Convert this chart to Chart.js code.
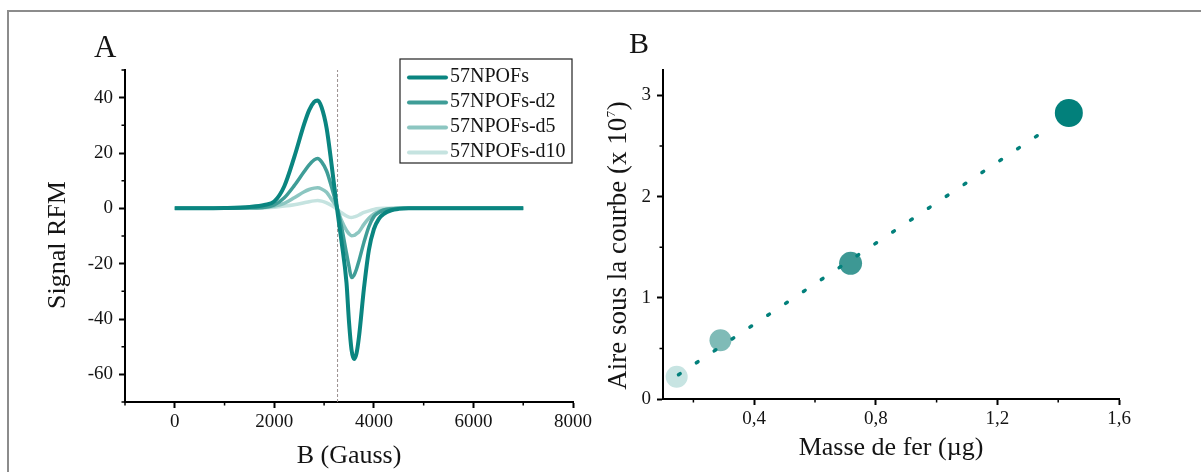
<!DOCTYPE html>
<html>
<head>
<meta charset="utf-8">
<script src="https://cdn.jsdelivr.net/npm/chart.js@4.4.1/dist/chart.umd.min.js"></script>
<style>
  html, body { margin: 0; padding: 0; background: #fff; }
  #figure { position: relative; width: 1201px; height: 472px; overflow: hidden; }
  #frame {
    position: absolute; left: 7px; top: 10px; right: -4px; bottom: -4px;
    border-top: 2px solid #8c8c8c; border-left: 2px solid #8c8c8c;
  }
  canvas { position: absolute; top: 0; }
  #chartA { left: 0; }
  #chartB { left: 600px; }
</style>
</head>
<body>
<div id="figure">
  <div id="frame"></div>
  <canvas id="chartA" width="600" height="472"></canvas>
  <canvas id="chartB" width="601" height="472"></canvas>
</div>
<script>
// ====================================
// Data
// ====================================

// Panel A : RFM spectra, field in Gauss
const bField = [0, 500, 1000, 1500, 1800, 2000, 2200, 2400, 2600, 2700, 2800, 2870, 2950, 3050, 3150,
  3250, 3350, 3450, 3500, 3550, 3600, 3650, 3700, 3800, 3900, 4000, 4100, 4200, 4350, 4500, 4700, 5000, 6000, 7000];
const signalMain = [0, 0, 0.1, 0.5, 1.2, 2.5, 8, 18.5, 30.5, 35.5, 38.5, 39, 36.5, 29, 15.8,
  1.2, -12, -27, -41, -51, -54.5, -52.5, -46.5, -29, -15, -7.5, -3.8, -2, -0.7, -0.2, 0, 0, 0, 0];
const signalD2 = [0, 0, 0, 0.2, 0.4, 1.2, 3.8, 8.2, 13.3, 15.7, 17.5, 18, 16.8, 13.5, 7.7,
  1.1, -6.7, -16.3, -21, -25, -24.2, -22, -19, -12.3, -6.6, -3, -1.5, -0.6, -0.2, 0, 0, 0, 0, 0];
const signalD5 = [0, 0, 0, 0.1, 0.3, 0.8, 1.8, 3.8, 6, 6.8, 7.3, 7.4, 7, 5.8, 3.2,
  0.5, -4.4, -8, -9.2, -9.9, -9.8, -9.2, -8.5, -5.8, -3.6, -2, -1.1, -0.5, -0.1, 0, 0, 0, 0, 0];
const signalD10 = [0, 0, 0, 0, 0.2, 0.4, 0.8, 1.3, 2, 2.4, 2.7, 2.8, 2.6, 2, 1,
  -0.2, -1.6, -2.8, -3.2, -3.3, -3.1, -2.8, -2.4, -1.5, -0.9, -0.4, -0.1, 0, 0, 0, 0, 0, 0, 0];
const seriesNames = ['57NPOFs', '57NPOFs-d2', '57NPOFs-d5', '57NPOFs-d10'];
const refField = 3270;

const xTicksA = [0, 2000, 4000, 6000, 8000];
const xMinorA = [-1000, 1000, 3000, 5000, 7000];
const yTicksA = [-60, -40, -20, 0, 20, 40];
const yMinorA = [-70, -50, -30, -10, 10, 30, 50];

// Panel B : area under curve vs iron mass
const massFe = [1.435, 0.717, 0.289, 0.145];
const areaCurve = [2.825, 1.34, 0.58, 0.22];
const fitMass = [0.151, 1.383];
const fitArea = [0.24, 2.705];

const xTicksB = [0.4, 0.8, 1.2, 1.6];
const xMinorB = [0.2, 0.6, 1.0, 1.4];
const yTicksB = [0, 1, 2, 3];
const yMinorB = [0.5, 1.5, 2.5];

// ====================================
// Styles
// ====================================

const SERIF = "'Liberation Serif', 'Times New Roman', serif";
const TEXT = '#141414';
const lineColors = ['#0a8580', '#3f9d97', '#8cc6c1', '#c5e3e0'];
const lineWidths = [4, 3.5, 3.5, 3.5];
const dotColors = ['#02807b', '#3d9894', '#7fbbb7', '#c7e4e2'];
const dotRadii = [14, 11.5, 11, 11];

Chart.defaults.font.family = SERIF;
Chart.defaults.color = TEXT;

const axisGrid = { drawOnChartArea: false, drawTicks: true, tickLength: 6, tickWidth: 2, tickColor: '#000' };
const axisBorder = { display: true, width: 2, color: '#000' };

// ====================================
// Plugins
// ====================================

const minorTicks = {
  id: 'minorTicks',
  afterDraw(chart, args, opts) {
    const { ctx, chartArea, scales } = chart;
    ctx.save();
    ctx.strokeStyle = '#000';
    ctx.lineWidth = 1.5;
    ctx.beginPath();
    (opts.x || []).forEach(v => {
      const px = scales.x.getPixelForValue(v);
      ctx.moveTo(px, chartArea.bottom);
      ctx.lineTo(px, chartArea.bottom + 3.5);
    });
    (opts.y || []).forEach(v => {
      const py = scales.y.getPixelForValue(v);
      ctx.moveTo(chartArea.left, py);
      ctx.lineTo(chartArea.left - 3.5, py);
    });
    ctx.stroke();
    ctx.restore();
  }
};

// panel letter + rotated y title (with optional exponent)
const panelText = {
  id: 'panelText',
  afterDraw(chart, args, opts) {
    const { ctx, chartArea } = chart;
    ctx.save();
    ctx.fillStyle = TEXT;
    ctx.textAlign = 'left';
    ctx.textBaseline = 'alphabetic';
    ctx.font = `${opts.letterSize}px ${SERIF}`;
    ctx.fillText(opts.letter, chartArea.left + opts.letterDx, chartArea.top + opts.letterDy);

    const cy = (chartArea.top + chartArea.bottom) / 2 + opts.titleShift;
    ctx.translate(chartArea.left + opts.titleDx, cy);
    ctx.rotate(-Math.PI / 2);
    const big = `${opts.titleSize}px ${SERIF}`;
    const small = `13px ${SERIF}`;
    ctx.font = big;
    const w1 = ctx.measureText(opts.title).width;
    let w2 = 0, w3 = 0;
    if (opts.exp) {
      ctx.font = small;
      w2 = ctx.measureText(opts.exp).width;
      ctx.font = big;
      w3 = ctx.measureText(opts.tail).width;
    }
    const x0 = -(w1 + w2 + w3) / 2;
    ctx.fillText(opts.title, x0, 0);
    if (opts.exp) {
      ctx.font = small;
      ctx.fillText(opts.exp, x0 + w1 + 0.5, opts.expDy);
      ctx.font = big;
      ctx.fillText(opts.tail, x0 + w1 + w2 + 1, 0);
    }
    ctx.restore();
  }
};

const legendBox = {
  id: 'legendBox',
  afterDraw(chart, args, opts) {
    if (!opts.show) return;
    const { ctx, chartArea } = chart;
    const items = chart.data.datasets.filter(d => d.inLegend);
    const right = chartArea.right - 1;
    const left = right - opts.width;
    const top = chartArea.top + opts.dy;
    ctx.save();
    ctx.fillStyle = '#fff';
    ctx.fillRect(left, top, opts.width, opts.height);
    ctx.strokeStyle = '#222';
    ctx.lineWidth = 1.2;
    ctx.strokeRect(left, top, opts.width, opts.height);
    ctx.font = `20px ${SERIF}`;
    ctx.textBaseline = 'middle';
    items.forEach((d, i) => {
      const y = top + opts.firstRow + i * opts.rowGap;
      ctx.strokeStyle = d.borderColor;
      ctx.lineWidth = 4;
      ctx.lineCap = 'round';
      ctx.beginPath();
      ctx.moveTo(left + 9, y);
      ctx.lineTo(left + 46, y);
      ctx.stroke();
      ctx.fillStyle = TEXT;
      ctx.fillText(d.label, left + 50, y - 0.5);
    });
    ctx.restore();
  }
};

const setTicks = values => axis => { axis.ticks = values.map(v => ({ value: v })); };

// ====================================
// Panel A
// ====================================

const signals = [signalMain, signalD2, signalD5, signalD10];
const curveSets = signals.map((s, i) => ({
  label: seriesNames[i],
  inLegend: true,
  data: bField.map((b, j) => ({ x: b, y: s[j] })),
  borderColor: lineColors[i],
  borderWidth: lineWidths[i],
  pointRadius: 0,
  cubicInterpolationMode: 'monotone',
  fill: false
}));

const yMinA = -70, yMaxA = 50;

new Chart(document.getElementById('chartA'), {
  type: 'line',
  data: {
    datasets: [
      ...curveSets,
      {
        label: 'ref',
        data: [{ x: refField, y: yMinA }, { x: refField, y: yMaxA }],
        borderColor: '#9a8f8f',
        borderWidth: 1,
        borderDash: [3, 2],
        pointRadius: 0
      }
    ]
  },
  options: {
    responsive: false,
    animation: false,
    devicePixelRatio: 1,
    layout: { padding: { top: 70, right: 27, left: 0, bottom: 0 } },
    plugins: {
      legend: { display: false },
      tooltip: { enabled: false },
      minorTicks: { x: xMinorA, y: yMinorA },
      panelText: { letter: 'A', letterSize: 31, letterDx: -31, letterDy: -13,
        title: 'Signal RFM', titleSize: 26, titleDx: -60, titleShift: 9 },
      legendBox: { show: true, width: 172, height: 104, dy: -11, firstRow: 18.5, rowGap: 25 }
    },
    scales: {
      x: {
        type: 'linear', min: -1000, max: 8000,
        afterBuildTicks: setTicks(xTicksA),
        afterFit: s => { s.height = 70; },
        ticks: { font: { size: 19 }, color: TEXT, padding: 3, maxRotation: 0, autoSkip: false, callback: v => String(v) },
        grid: axisGrid,
        border: axisBorder,
        title: { display: true, text: 'B (Gauss)', font: { size: 26 }, color: TEXT, padding: { top: 0, bottom: 0 } }
      },
      y: {
        type: 'linear', min: yMinA, max: yMaxA,
        afterBuildTicks: setTicks(yTicksA),
        afterFit: s => { s.width = 125; },
        ticks: { font: { size: 19 }, color: TEXT, padding: 6, autoSkip: false, callback: v => String(v) },
        grid: axisGrid,
        border: axisBorder
      }
    }
  },
  plugins: [minorTicks, panelText, legendBox]
});

// ====================================
// Panel B
// ====================================

new Chart(document.getElementById('chartB'), {
  type: 'scatter',
  data: {
    datasets: [
      {
        label: 'fit',
        data: fitMass.map((m, i) => ({ x: m, y: fitArea[i] })),
        showLine: true,
        borderColor: dotColors[0],
        borderWidth: 3.5,
        borderDash: [2, 19.45],
        borderCapStyle: 'round',
        pointRadius: 0,
        fill: false
      },
      {
        label: 'samples',
        data: massFe.map((m, i) => ({ x: m, y: areaCurve[i] })),
        pointRadius: dotRadii,
        pointHoverRadius: dotRadii,
        pointBackgroundColor: dotColors,
        pointBorderColor: dotColors,
        pointBorderWidth: 0
      }
    ]
  },
  options: {
    responsive: false,
    animation: false,
    devicePixelRatio: 1,
    layout: { padding: { top: 70, right: 82, left: 0, bottom: 0 } },
    plugins: {
      legend: { display: false },
      tooltip: { enabled: false },
      minorTicks: { x: xMinorB, y: yMinorB },
      panelText: { letter: 'B', letterSize: 30, letterDx: -34, letterDy: -17,
        title: 'Aire sous la courbe (x 10', exp: '7', tail: ')', expDy: -11,
        titleSize: 27, titleDx: -37, titleShift: 11.5 },
      legendBox: { show: false }
    },
    scales: {
      x: {
        type: 'linear', min: 0.1, max: 1.6,
        afterBuildTicks: setTicks(xTicksB),
        afterFit: s => { s.height = 73; },
        ticks: { font: { size: 19 }, color: TEXT, padding: 3, maxRotation: 0, autoSkip: false,
          callback: v => v.toFixed(1).replace('.', ',') },
        grid: axisGrid,
        border: axisBorder,
        title: { display: true, text: 'Masse de fer (µg)', font: { size: 26 }, color: TEXT, padding: { top: 0, bottom: 8 } }
      },
      y: {
        type: 'linear', min: 0, max: 3.25,
        afterBuildTicks: setTicks(yTicksB),
        afterFit: s => { s.width = 63; },
        ticks: { font: { size: 19 }, color: TEXT, padding: 6, autoSkip: false, callback: v => String(v) },
        grid: axisGrid,
        border: axisBorder
      }
    }
  },
  plugins: [minorTicks, panelText, legendBox]
});
</script>
</body>
</html>
